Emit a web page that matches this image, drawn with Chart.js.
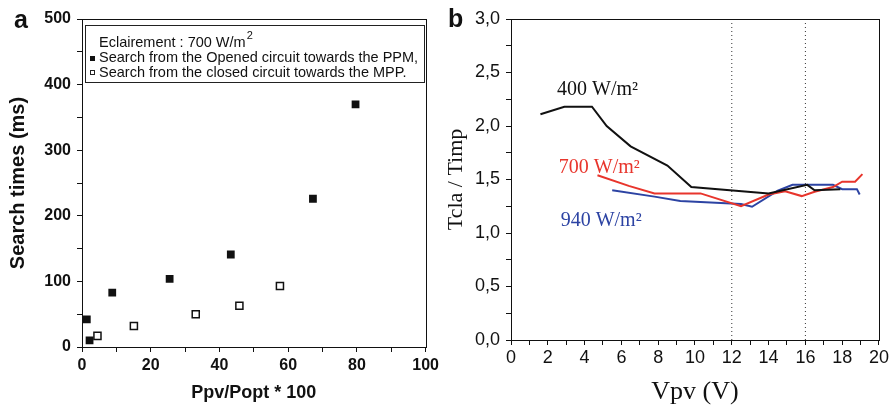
<!DOCTYPE html>
<html>
<head>
<meta charset="utf-8">
<script src="https://cdn.jsdelivr.net/npm/chart.js@4.4.0/dist/chart.umd.min.js"></script>
<style>
  body { margin: 0; background: #fff; }
  #wrapA { position: absolute; left: 0; top: 0; width: 445px; height: 405px; }
  #wrapB { position: absolute; left: 445px; top: 0; width: 448px; height: 405px; }
</style>
</head>
<body>
<div id="wrapA"><canvas id="chartA"></canvas></div>
<div id="wrapB"><canvas id="chartB"></canvas></div>
<script>
// panel a : search times vs Ppv/Popt
const ratioOpen = [1.4, 2.2, 8.8, 25.5, 43.3, 67.2, 79.6];
const timeOpen = [42, 10, 83, 104, 141, 226, 370];
const ratioClosed = [4.5, 15.1, 33.1, 45.8, 57.6];
const timeClosed = [17, 32, 50, 63, 93];
const legendTitle = "Eclairement : 700 W/m";
const labelOpen = "Search from the Opened circuit towards the PPM,";
const labelClosed = "Search from the closed circuit towards the MPP.";

// panel b : Tcla / Timp vs Vpv
const vpv400 = [1.6, 2.9, 4.4, 5.2, 6.5, 8.5, 9.8, 14.0, 16.1, 16.5, 17.9];
const ratio400 = [2.11, 2.18, 2.18, 2.00, 1.81, 1.63, 1.43, 1.37, 1.45, 1.40, 1.41];
const vpv700 = [4.7, 6.4, 7.8, 10.3, 12.5, 14.0, 14.9, 15.8, 16.5, 17.5, 18.0, 18.7, 19.1];
const ratio700 = [1.54, 1.44, 1.37, 1.37, 1.25, 1.36, 1.39, 1.345, 1.385, 1.43, 1.48, 1.48, 1.55];
const vpv940 = [5.5, 7.8, 9.2, 11.4, 12.5, 13.1, 14.5, 15.3, 17.5, 18.0, 18.8, 18.95];
const ratio940 = [1.40, 1.34, 1.30, 1.28, 1.27, 1.245, 1.395, 1.45, 1.45, 1.41, 1.41, 1.36];
const dottedV = [12, 16];
const seriesNames = ["400 W/m²", "700 W/m²", "940 W/m²"];

const BLACK = "#111";
const RED = "#e8352c";
const BLUE = "#2c43a3";
const SANS = '"Liberation Sans", Arial, sans-serif';
const SERIF = '"Liberation Serif", "Times New Roman", serif';

const toXY = (xs, ys) => xs.map((x, i) => ({ x, y: ys[i] }));

// box around the plot area
const framePlugin = {
  id: "frame",
  afterDraw(chart) {
    const { ctx, chartArea: a } = chart;
    ctx.save();
    ctx.strokeStyle = "#111";
    ctx.lineWidth = 1;
    ctx.strokeRect(Math.round(a.left) + 0.5, Math.round(a.top) + 0.5,
      Math.round(a.right - a.left), Math.round(a.bottom - a.top));
    ctx.restore();
  }
};

function panelLetter(letter, x, y) {
  return {
    id: "letter" + letter,
    afterDraw(chart) {
      const ctx = chart.ctx;
      ctx.save();
      ctx.fillStyle = BLACK;
      ctx.font = "bold 25px " + SANS;
      ctx.fillText(letter, x, y);
      ctx.restore();
    }
  };
}

// boxed legend in panel a
const legendA = {
  id: "legendA",
  afterDraw(chart) {
    const { ctx, chartArea: a } = chart;
    const x0 = Math.round(a.left) + 3, y0 = Math.round(a.top) + 6;
    ctx.save();
    ctx.strokeStyle = "#222";
    ctx.lineWidth = 1;
    ctx.strokeRect(x0 + 0.5, y0 + 0.5, 339, 57);
    ctx.fillStyle = BLACK;
    ctx.font = "14.5px " + SANS;
    ctx.fillText(legendTitle, x0 + 14, y0 + 22);
    const w = ctx.measureText(legendTitle).width;
    ctx.font = "11px " + SANS;
    ctx.fillText("2", x0 + 15 + w, y0 + 14);
    ctx.font = "14.5px " + SANS;
    ctx.fillRect(x0 + 5, y0 + 31, 5, 5);
    ctx.fillText(chart.data.datasets[0].label, x0 + 14, y0 + 37);
    ctx.lineWidth = 1;
    ctx.strokeRect(x0 + 5.5, y0 + 45.5, 4, 4);
    ctx.fillText(chart.data.datasets[1].label, x0 + 14, y0 + 52);
    ctx.restore();
  }
};

// series names written next to the curves in panel b
const curveLabels = {
  id: "curveLabels",
  afterDraw(chart) {
    const { ctx, scales } = chart;
    const spots = [
      { x: 2.5, y: 2.29, color: BLACK },
      { x: 2.6, y: 1.56, color: RED },
      { x: 2.7, y: 1.065, color: BLUE }
    ];
    ctx.save();
    ctx.font = "20px " + SERIF;
    spots.forEach((s, i) => {
      ctx.fillStyle = s.color;
      ctx.fillText(seriesNames[i], scales.x.getPixelForValue(s.x), scales.y.getPixelForValue(s.y));
    });
    ctx.restore();
  }
};

new Chart(document.getElementById("chartA"), {
  type: "scatter",
  data: {
    datasets: [
      {
        label: labelOpen,
        data: toXY(ratioOpen, timeOpen),
        pointStyle: "rect",
        pointRadius: 5.5,
        backgroundColor: "#111",
        borderColor: "#111",
        borderWidth: 0
      },
      {
        label: labelClosed,
        data: toXY(ratioClosed, timeClosed),
        pointStyle: "rect",
        pointRadius: 5,
        backgroundColor: "#fff",
        borderColor: "#111",
        borderWidth: 1.5
      }
    ]
  },
  options: {
    responsive: true,
    maintainAspectRatio: false,
    animation: false,
    events: [],
    layout: { padding: { left: 0, right: 17, top: 19, bottom: 0 } },
    plugins: { legend: { display: false }, tooltip: { enabled: false } },
    scales: {
      x: {
        type: "linear",
        min: 0,
        max: 100,
        grid: { drawOnChartArea: false, tickLength: 5, color: "#111" },
        border: { color: "#111" },
        ticks: {
          stepSize: 10,
          autoSkip: false,
          maxRotation: 0,
          padding: 6,
          color: BLACK,
          font: { family: SANS, size: 16, weight: "bold", lineHeight: 1 },
          callback: v => (v % 20 === 0 ? v : "")
        },
        title: {
          display: true,
          text: "Ppv/Popt * 100",
          color: BLACK,
          font: { family: SANS, size: 18, weight: "bold", lineHeight: 1.2 },
          padding: { top: 0, bottom: 1 }
        },
        afterFit: s => { s.height = 58; }
      },
      y: {
        min: 0,
        max: 500,
        grid: { drawOnChartArea: false, tickLength: 5, color: "#111" },
        border: { color: "#111" },
        ticks: {
          stepSize: 50,
          autoSkip: false,
          padding: 6,
          color: BLACK,
          font: { family: SANS, size: 16, weight: "bold" },
          callback: v => (v % 100 === 0 ? v : "")
        },
        title: {
          display: true,
          text: "Search times (ms)",
          color: BLACK,
          font: { family: SANS, size: 20, weight: "bold", lineHeight: 1.2 },
          padding: { top: 6, bottom: 0 }
        },
        afterFit: s => { s.width = 82; }
      }
    }
  },
  plugins: [framePlugin, legendA, panelLetter("a", 14, 28)]
});

const lineStyle = { pointRadius: 0, borderWidth: 2, tension: 0, fill: false };
const dotStyle = { pointRadius: 0, borderWidth: 1, borderColor: "#333", borderDash: [1, 3], fill: false };

new Chart(document.getElementById("chartB"), {
  type: "line",
  data: {
    datasets: [
      Object.assign({ label: seriesNames[0], data: toXY(vpv400, ratio400), borderColor: BLACK }, lineStyle),
      Object.assign({ label: seriesNames[1], data: toXY(vpv700, ratio700), borderColor: RED }, lineStyle),
      Object.assign({ label: seriesNames[2], data: toXY(vpv940, ratio940), borderColor: BLUE }, lineStyle),
      ...dottedV.map(v => Object.assign({ label: "V=" + v, data: [{ x: v, y: 0 }, { x: v, y: 2.97 }] }, dotStyle))
    ]
  },
  options: {
    responsive: true,
    maintainAspectRatio: false,
    animation: false,
    events: [],
    layout: { padding: { left: 0, right: 14, top: 19, bottom: 0 } },
    plugins: { legend: { display: false }, tooltip: { enabled: false } },
    scales: {
      x: {
        type: "linear",
        min: 0,
        max: 20,
        grid: { drawOnChartArea: false, tickLength: 5, color: "#111" },
        border: { color: "#111" },
        ticks: {
          stepSize: 1,
          autoSkip: false,
          maxRotation: 0,
          padding: 4,
          color: BLACK,
          font: { family: SANS, size: 18, lineHeight: 1 },
          callback: v => (v % 2 === 0 ? v : "")
        },
        title: {
          display: true,
          text: "Vpv (V)",
          color: BLACK,
          font: { family: SERIF, size: 26, lineHeight: 1 },
          padding: { top: 0, bottom: 0 }
        },
        afterFit: s => { s.height = 65; }
      },
      y: {
        min: 0,
        max: 3,
        grid: { drawOnChartArea: false, tickLength: 5, color: "#111" },
        border: { color: "#111" },
        ticks: {
          stepSize: 0.25,
          autoSkip: false,
          padding: 6,
          color: BLACK,
          font: { family: SANS, size: 18 },
          callback: v => (Math.abs(v * 2 - Math.round(v * 2)) < 1e-6 ? v.toFixed(1).replace(".", ",") : "")
        },
        title: {
          display: true,
          text: "Tcla / Timp",
          color: BLACK,
          font: { family: SERIF, size: 22, lineHeight: 1 },
          padding: { top: 0, bottom: 0 }
        },
        afterFit: s => { s.width = 66; }
      }
    }
  },
  plugins: [framePlugin, curveLabels, panelLetter("b", 3, 27)]
});
</script>
</body>
</html>
